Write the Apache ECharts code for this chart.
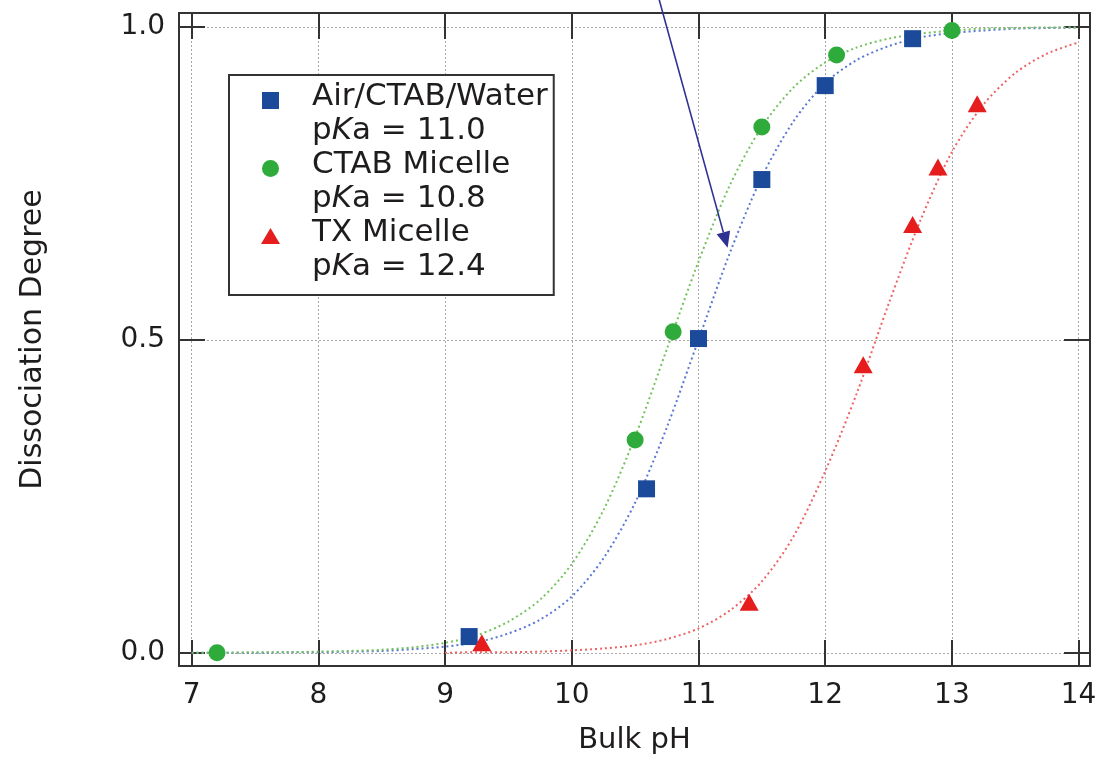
<!DOCTYPE html>
<html>
<head>
<meta charset="utf-8">
<script src="https://cdn.jsdelivr.net/npm/echarts@6/dist/echarts.min.js"></script>
<style>
  html, body { margin: 0; padding: 0; background: #fff; }
  #chart { width: 1102px; height: 765px; }
</style>
</head>
<body>
<div id="chart"></div>
<script>
// Dissociation degree of the probe versus bulk pH for three environments

const seriesNames = ['Air/CTAB/Water', 'CTAB Micelle', 'TX Micelle'];
const pkaLabels = ['11.0', '10.8', '12.4'];

// measured points [pH, degree]
const airWaterPoints = [[9.19, 0.026], [10.59, 0.262], [11.0, 0.502], [11.5, 0.756], [12.0, 0.906], [12.69, 0.981]];
const ctabMicellePoints = [[7.2, 0.0], [10.5, 0.340], [10.8, 0.513], [11.5, 0.840], [12.09, 0.955], [13.0, 0.994]];
const txMicellePoints = [[9.29, 0.016], [11.4, 0.081], [12.3, 0.46], [12.69, 0.684], [12.89, 0.776], [13.2, 0.877]];

// fitted titration curves, sampled every 0.25 pH unit
const fitPH = [7.0, 7.25, 7.5, 7.75, 8.0, 8.25, 8.5, 8.75, 9.0, 9.25, 9.5, 9.75, 10.0, 10.25, 10.5, 10.75,
               11.0, 11.25, 11.5, 11.75, 12.0, 12.25, 12.5, 12.75, 13.0, 13.25, 13.5, 13.75, 14.0];
const airWaterFit = [0.000, 0.000, 0.000, 0.001, 0.001, 0.002, 0.003, 0.006, 0.010, 0.017, 0.031, 0.053, 0.090, 0.151, 0.240, 0.360,
                     0.500, 0.640, 0.760, 0.849, 0.910, 0.947, 0.969, 0.983, 0.990, 0.994, 0.997, 0.998, 0.999];
const ctabMicelleFit = [0.000, 0.000, 0.001, 0.001, 0.002, 0.003, 0.005, 0.009, 0.016, 0.028, 0.050, 0.085, 0.142, 0.228, 0.345, 0.485,
                        0.625, 0.748, 0.840, 0.903, 0.943, 0.967, 0.981, 0.989, 0.994, 0.997, 0.998, 0.999, 0.999];
const txMicelleFit = [null, null, null, null, null, null, null, null, 0.000, 0.001, 0.001, 0.002, 0.004, 0.007, 0.012, 0.022,
                      0.039, 0.068, 0.114, 0.186, 0.290, 0.415, 0.557, 0.690, 0.800, 0.876, 0.926, 0.957, 0.975];

// annotation arrow, in data units [pH, degree]
const arrowFrom = [10.69, 1.043];
const arrowTo = [11.23, 0.647];

const markerColors = ['#1b4a9a', '#2eab3a', '#e51d1d'];
const curveColors = ['#5b78d4', '#74c25e', '#ef6262'];
const textColor = '#1f1c1d';
const frameColor = '#333333';
const fontFamily = '"DejaVu Sans", sans-serif';

function pairs(xs, ys) {
  return xs.map((x, i) => [x, ys[i]]);
}

// legend icons: the marker sits level with the first text line of each entry
const legendIcons = [
  'path://M1,12L18,12L18,29L1,29ZM0,0M19,68',
  'path://M1,20.5A8.5,8.5,0,1,1,18,20.5A8.5,8.5,0,1,1,1,20.5ZM0,0M19,68',
  'path://M9.5,12L19,28L0,28ZM0,0M19,68'
];

const chart = echarts.init(document.getElementById('chart'), null, { renderer: 'canvas' });

const gridSplit = { show: true, lineStyle: { color: '#a8a8a8', width: 1, type: [2, 2] } };
const frameLine = { show: true, onZero: false, lineStyle: { color: frameColor, width: 2 } };
const innerTick = { show: true, inside: true, length: 26, lineStyle: { color: frameColor, width: 2 } };

const xBase = { type: 'value', min: 6.9, max: 14.09, splitNumber: 7 };
const yBase = { type: 'value', min: -0.021, max: 1.022, splitNumber: 2 };

const option = {
  backgroundColor: '#ffffff',
  animation: false,
  textStyle: { fontFamily: fontFamily, color: textColor },
  grid: { left: 179, right: 12, top: 13, bottom: 99 },
  xAxis: [
    Object.assign({}, xBase, {
      position: 'bottom',
      name: 'Bulk pH',
      nameLocation: 'middle',
      nameGap: 60,
      nameTextStyle: { fontFamily: fontFamily, fontSize: 29, color: textColor },
      axisLine: frameLine,
      axisTick: innerTick,
      splitLine: gridSplit,
      axisLabel: {
        show: true, margin: 16, fontSize: 28, color: textColor, fontFamily: fontFamily,
        showMinLabel: false, showMaxLabel: false,
        formatter: v => (Math.abs(v - Math.round(v)) < 1e-6 ? String(Math.round(v)) : '')
      }
    }),
    Object.assign({}, xBase, {
      position: 'top',
      axisLine: frameLine,
      axisTick: innerTick,
      splitLine: { show: false },
      axisLabel: { show: false }
    })
  ],
  yAxis: [
    Object.assign({}, yBase, {
      position: 'left',
      name: 'Dissociation Degree',
      nameLocation: 'middle',
      nameGap: 131,
      nameTextStyle: { fontFamily: fontFamily, fontSize: 30, color: textColor },
      axisLine: frameLine,
      axisTick: innerTick,
      splitLine: gridSplit,
      axisLabel: {
        show: true, margin: 14, fontSize: 28, color: textColor, fontFamily: fontFamily,
        showMinLabel: false, showMaxLabel: false,
        formatter: v => (Math.abs(v * 2 - Math.round(v * 2)) < 1e-6 ? v.toFixed(1) : '')
      }
    }),
    Object.assign({}, yBase, {
      position: 'right',
      axisLine: frameLine,
      axisTick: innerTick,
      splitLine: { show: false },
      axisLabel: { show: false }
    })
  ],
  legend: {
    orient: 'vertical',
    left: 229,
    top: 75,
    padding: [5, 6, 11, 32],
    itemGap: 0,
    itemWidth: 19,
    itemHeight: 68,
    borderColor: frameColor,
    borderWidth: 2,
    backgroundColor: '#ffffff',
    data: seriesNames.map((n, i) => ({ name: n, icon: legendIcons[i] })),
    formatter: name => {
      const i = seriesNames.indexOf(name);
      return '{sp| }{t|' + name + '}\n{sp| }{t|p}{i|K}{t|a = ' + pkaLabels[i] + '}';
    },
    textStyle: {
      fontFamily: fontFamily,
      fontSize: 31,
      color: textColor,
      rich: {
        sp: { width: 27, fontSize: 31, lineHeight: 34 },
        t: { fontSize: 31, lineHeight: 34, color: textColor, fontFamily: fontFamily },
        i: { fontSize: 31, lineHeight: 34, color: textColor, fontFamily: fontFamily, fontStyle: 'italic' }
      }
    }
  },
  series: [
    {
      name: 'Air/CTAB/Water fit', type: 'line', xAxisIndex: 0, yAxisIndex: 0,
      data: pairs(fitPH, airWaterFit), showSymbol: false, smooth: 0.3, z: 2,
      lineStyle: { color: curveColors[0], width: 2, type: [2, 3] }
    },
    {
      name: 'CTAB Micelle fit', type: 'line', xAxisIndex: 0, yAxisIndex: 0,
      data: pairs(fitPH, ctabMicelleFit), showSymbol: false, smooth: 0.3, z: 2,
      lineStyle: { color: curveColors[1], width: 2, type: [2, 3] }
    },
    {
      name: 'TX Micelle fit', type: 'line', xAxisIndex: 0, yAxisIndex: 0,
      data: pairs(fitPH, txMicelleFit), showSymbol: false, smooth: 0.3, z: 2,
      lineStyle: { color: curveColors[2], width: 2, type: [2, 3] }
    },
    {
      name: seriesNames[0], type: 'scatter', xAxisIndex: 0, yAxisIndex: 0,
      data: airWaterPoints, symbol: 'rect', symbolSize: 17, z: 5,
      itemStyle: { color: markerColors[0], opacity: 1 }
    },
    {
      name: seriesNames[1], type: 'scatter', xAxisIndex: 0, yAxisIndex: 0,
      data: ctabMicellePoints, symbol: 'circle', symbolSize: 17, z: 5,
      itemStyle: { color: markerColors[1], opacity: 1 }
    },
    {
      name: seriesNames[2], type: 'scatter', xAxisIndex: 0, yAxisIndex: 0,
      data: txMicellePoints, symbol: 'triangle', symbolSize: [19, 17], z: 5,
      itemStyle: { color: markerColors[2], opacity: 1 }
    }
  ]
};

chart.setOption(option);

// annotation arrow pointing at the Air/CTAB/Water curve
const p0 = chart.convertToPixel({ xAxisIndex: 0, yAxisIndex: 0 }, arrowFrom);
const p1 = chart.convertToPixel({ xAxisIndex: 0, yAxisIndex: 0 }, arrowTo);
const dx = p1[0] - p0[0], dy = p1[1] - p0[1];
const len = Math.sqrt(dx * dx + dy * dy);
const ux = dx / len, uy = dy / len;
const headLen = 16, headHalf = 7;
const bx = p1[0] - ux * headLen, by = p1[1] - uy * headLen;

chart.setOption({
  graphic: [
    {
      type: 'line', z: 20,
      shape: { x1: p0[0], y1: p0[1], x2: bx, y2: by },
      style: { stroke: '#2e3192', lineWidth: 1.6 }
    },
    {
      type: 'polygon', z: 20,
      shape: { points: [[p1[0], p1[1]], [bx - uy * headHalf, by + ux * headHalf], [bx + uy * headHalf, by - ux * headHalf]] },
      style: { fill: '#2e3192' }
    }
  ]
});
</script>
</body>
</html>
